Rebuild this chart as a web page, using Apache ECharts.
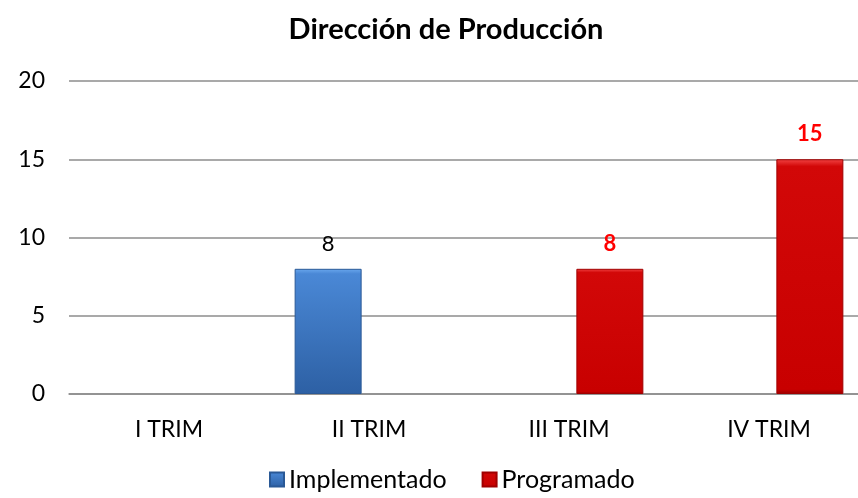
<!DOCTYPE html>
<html>
<head>
<meta charset="utf-8">
<script src="https://cdn.jsdelivr.net/npm/echarts@6/dist/echarts.min.js"></script>
<style>
  html, body { margin: 0; padding: 0; background: #fff; overflow: hidden; }
  /* el área del gráfico sobresale un poco a la derecha, como en el original */
  #chart { width: 869px; height: 498px; }
</style>
</head>
<body>
<div id="chart"></div>
<script>
// datos
var trimestres = ['I TRIM', 'II TRIM', 'III TRIM', 'IV TRIM'];
var implementado = [null, 8, null, null];
var programado = [null, null, 8, 15];
var yTicks = [0, 5, 10, 15, 20];

var FONT = 'Lato, "Open Sans", sans-serif';

var chart = echarts.init(document.getElementById('chart'));

// degradados para imitar el biselado de Excel
var azul = new echarts.graphic.LinearGradient(0, 0, 0, 1, [
  { offset: 0, color: '#6aa8ee' },
  { offset: 0.04, color: '#4a88d6' },
  { offset: 1, color: '#2d60a4' }
]);
var rojo = new echarts.graphic.LinearGradient(0, 0, 0, 1, [
  { offset: 0, color: '#f24444' },
  { offset: 0.03, color: '#d20808' },
  { offset: 0.98, color: '#c80000' },
  { offset: 1, color: '#9a0000' }
]);

chart.setOption({
  backgroundColor: '#ffffff',
  title: {
    text: 'Dirección de Producción',
    left: 441,
    textAlign: 'center',
    top: 10,
    textStyle: { fontFamily: FONT, fontWeight: 'bold', fontSize: 29, color: '#000' }
  },
  legend: {
    top: 462,
    left: 264,
    itemWidth: 14,
    itemHeight: 14,
    itemGap: 35,
    icon: 'rect',
    textStyle: { fontFamily: FONT, fontSize: 25, color: '#000' },
    data: ['Implementado', 'Programado']
  },
  grid: {
    left: 69,
    top: 81,
    right: 0,
    bottom: 104
  },
  xAxis: {
    type: 'category',
    data: trimestres,
    axisLine: { show: true, lineStyle: { color: '#8c8c8c', width: 1.5 } },
    axisTick: { show: false },
    axisLabel: { fontFamily: FONT, fontSize: 23, color: '#000', margin: 24 }
  },
  yAxis: {
    type: 'value',
    min: yTicks[0],
    max: yTicks[yTicks.length - 1],
    interval: 5,
    axisLine: { show: false },
    axisTick: { show: false },
    splitLine: { lineStyle: { color: '#8c8c8c', width: 1.5 } },
    axisLabel: { fontFamily: FONT, fontSize: 23, color: '#000', margin: 24 }
  },
  series: [
    {
      name: 'Implementado',
      type: 'bar',
      data: implementado,
      barWidth: 67,
      barGap: '22%',
      itemStyle: {
        color: azul,
        borderColor: '#2a5996',
        borderWidth: 1
      },
      label: {
        show: true,
        position: 'top',
        distance: 14,
        fontFamily: FONT,
        fontSize: 22,
        color: '#000'
      }
    },
    {
      name: 'Programado',
      type: 'bar',
      data: programado,
      barWidth: 67,
      itemStyle: {
        color: rojo,
        borderColor: '#a00000',
        borderWidth: 1
      },
      label: {
        show: true,
        position: 'top',
        distance: 14,
        fontFamily: FONT,
        fontSize: 22,
        fontWeight: 'bold',
        color: '#ff0000'
      }
    }
  ]
});
</script>
</body>
</html>
